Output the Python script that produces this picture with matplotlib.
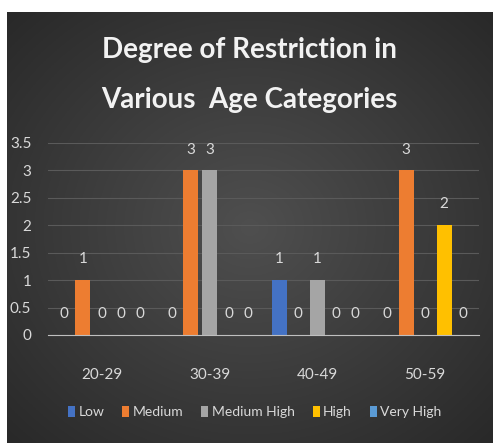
import numpy as np
from matplotlib import pyplot as plt

# data
age_groups = ["20-29", "30-39", "40-49", "50-59"]
levels = ["Low", "Medium", "Medium High", "High", "Very High"]
low = [0, 0, 1, 0]
medium = [1, 3, 0, 3]
medium_high = [0, 3, 1, 0]
high = [0, 0, 0, 2]
very_high = [0, 0, 0, 0]
series = [low, medium, medium_high, high, very_high]
colors = ["#4472C4", "#ED7D31", "#A5A5A5", "#FFC000", "#5B9BD5"]

txt = "#D9D9D9"
plt.rcParams["font.family"] = ["Lato", "DejaVu Sans"]

fig = plt.figure(figsize=(4.93, 4.43), dpi=100, facecolor="white")

# dark radial background of the chart area
bg = fig.add_axes([7 / 493, 0, 486 / 493, 431 / 443])
yy, xx = np.mgrid[-1:1:300j, -1:1:300j]
r = np.sqrt(xx ** 2 + yy ** 2) / np.sqrt(2)
shade = 0.31 - 0.15 * r
img = np.dstack([shade, shade, shade])
bg.imshow(img, aspect="auto", extent=[0, 1, 0, 1])
bg.set_axis_off()

ax = fig.add_axes([48 / 493, 1 - 335 / 443, 431 / 493, 192 / 443])
ax.set_facecolor("none")

x = np.arange(len(age_groups))
slot = 0.176
width = 0.139
for i, (vals, c, name) in enumerate(zip(series, colors, levels)):
    pos = x + (i - 2) * slot
    ax.bar(pos, vals, width, color=c, label=name, zorder=3)
    for p, v in zip(pos, vals):
        ax.text(p, v + 0.38, str(v), ha="center", va="center",
                color=txt, fontsize=11, zorder=4)

ax.set_xlim(-0.5, 3.5)
ax.set_ylim(0, 3.5)
ax.set_yticks(np.arange(0, 3.51, 0.5))
ax.set_yticklabels(["0", "0.5", "1", "1.5", "2", "2.5", "3", "3.5"])
ax.set_xticks(x)
ax.set_xticklabels(age_groups)
ax.tick_params(colors=txt, labelsize=11, length=0)
ax.tick_params(axis="x", pad=24)
ax.tick_params(axis="y", pad=12)
ax.grid(axis="y", color="#5A5A5A", linewidth=0.8, zorder=0)
for s in ["top", "right", "left"]:
    ax.spines[s].set_visible(False)
ax.spines["bottom"].set_color("#BFBFBF")
ax.spines["bottom"].set_zorder(5)

fig.text(0.505, 1 - 50 / 443, "Degree of Restriction in", ha="center",
         va="center", color="#F2F2F2", fontsize=20, fontweight="bold")
fig.text(0.505, 1 - 100 / 443, "Various  Age Categories", ha="center",
         va="center", color="#F2F2F2", fontsize=20, fontweight="bold")

ax.legend(loc="center", bbox_to_anchor=(0.48, -0.4), ncol=5, frameon=False,
          fontsize=10, labelcolor=txt, handlelength=0.5, handleheight=0.9,
          handletextpad=0.25, columnspacing=1.3)

fig.savefig("out.png", dpi=100, facecolor="white")
